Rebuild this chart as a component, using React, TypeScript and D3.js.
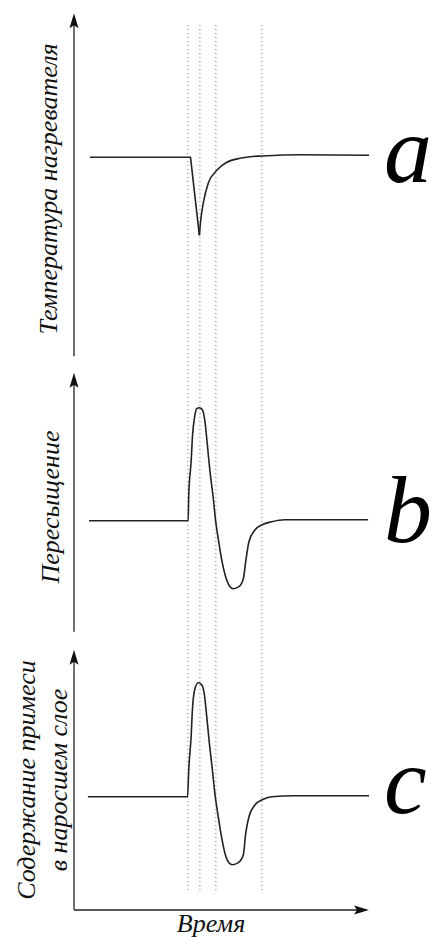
import React from 'react'
import * as d3 from 'd3'

const width = 433
const height = 937

// time (arbitrary units) of the dotted guide lines
const markerTimes = [38.6, 42.7, 48.1, 63.7]

// a: heater temperature — sharp drop, then relaxation
const heaterDrop = [[5.4, 0], [39.5, 0], [42.5, -0.78]]
const heaterRecovery = [
    [42.5, -0.78], [42.95, -0.63], [43.8, -0.46], [45.5, -0.26], [48.4, -0.13],
    [51.8, -0.05], [56.3, -0.01], [59.7, 0.006], [63.7, 0.013], [76.6, 0.026], [100, 0.02]
]

// b: supersaturation
const supersaturation = [
    [5.1, 0], [38.7, 0], [38.9, 0.26], [39.7, 0.59], [40.2, 0.86], [40.8, 1.02],
    [41.6, 1.12], [42.5, 1.13], [43.5, 1.11], [44.4, 0.99], [45.2, 0.76], [46.1, 0.49],
    [47.2, 0.23], [48.0, 0.0], [48.9, -0.18], [50.0, -0.38], [51.4, -0.56], [52.9, -0.66],
    [54.0, -0.68], [55.9, -0.66], [57.4, -0.58], [58.2, -0.41], [59.3, -0.21], [61.4, -0.09],
    [63.8, -0.04], [67.0, -0.01], [71.5, 0.01], [74.9, 0.01], [99.7, 0.01]
]

// c: impurity content in the grown layer
const impurity = [
    [4.7, 0], [38.5, 0], [38.9, 0.27], [39.7, 0.6], [40.2, 0.9], [41.0, 1.08],
    [42.1, 1.14], [43.3, 1.12], [44.2, 1.02], [45.0, 0.8], [45.9, 0.53], [46.9, 0.27],
    [47.8, 0.02], [48.9, -0.2], [50.0, -0.4], [51.2, -0.57], [52.5, -0.66], [53.7, -0.68],
    [55.7, -0.66], [57.4, -0.58], [58.2, -0.37], [59.3, -0.2], [61.4, -0.08], [63.8, -0.03],
    [67.0, 0.0], [74.9, 0.01], [100, 0.01]
]

const axisLabels = {
    a: ['Температура нагревателя'],
    b: ['Пересыщение'],
    c: ['Содержание примеси', 'в наросшем слое']
}
const xLabel = 'Время'

const panels = [
    { id: 'a', center: 157.3, lo: -1.99, hi: 1.44, labelY: 189, labelX: [57], letterY: 182, series: [heaterDrop], smooth: [heaterRecovery] },
    { id: 'b', center: 520.7, lo: -1.11, hi: 1.48, labelY: 507, labelX: [59], letterY: 542, series: [], smooth: [supersaturation] },
    { id: 'c', center: 796.7, lo: -1.13, hi: 1.47, labelY: 780, labelX: [35, 67], letterY: 813, series: [], smooth: [impurity] },
]

const serif = { fontFamily: "'Liberation Serif'", fontStyle: 'italic' }

const x = d3.scaleLinear().domain([0, 100]).range([74, 369])

const arrowUp = 'M0,0 L4.5,15 L0,12 L-4.5,15 Z'
const arrowRight = 'M0,0 L-15,-4.5 L-12,0 L-15,4.5 Z'

export default function App() {
    const guideTop = 25
    const guideBottom = 892

    return (
        <svg width={width} height={height} viewBox={`0 0 ${width} ${height}`}
            style={{ position: 'absolute', left: 0, top: 0, background: '#fff' }}>
            <g stroke="#777" strokeWidth={1} strokeDasharray="1 3">
                {markerTimes.map(t => (
                    <line key={t} x1={x(t)} x2={x(t)} y1={guideTop} y2={guideBottom} />
                ))}
            </g>
            {panels.map(p => {
                const y = d3.scaleLinear().domain([-1, 1]).range([p.center + 100, p.center - 100])
                const lin = d3.line().x(d => x(d[0])).y(d => y(d[1]))
                const mono = d3.line().x(d => x(d[0])).y(d => y(d[1])).curve(d3.curveMonotoneX)
                const lines = axisLabels[p.id]
                return (
                    <g key={p.id}>
                        <line x1={x(0)} x2={x(0)} y1={y(p.lo)} y2={y(p.hi) + 10} stroke="#222" strokeWidth={1.3} />
                        <path d={arrowUp} transform={`translate(${x(0)},${y(p.hi)})`} fill="#111" />
                        <g fill="none" stroke="#222" strokeWidth={1.6} strokeLinejoin="round">
                            {p.series.map((s, i) => <path key={'l' + i} d={lin(s)} />)}
                            {p.smooth.map((s, i) => <path key={'m' + i} d={mono(s)} />)}
                        </g>
                        {lines.map((txt, i) => (
                            <text key={i} transform={`translate(${p.labelX[i]},${p.labelY}) rotate(-90)`}
                                textAnchor="middle" style={serif} fontSize={26} fill="#111">
                                {txt}
                            </text>
                        ))}
                        <text x={384} y={p.letterY} style={serif} fontSize={96} fill="#000">
                            {p.id}
                        </text>
                    </g>
                )
            })}
            <line x1={x(0)} x2={x(100) - 10} y1={910} y2={910} stroke="#222" strokeWidth={1.3} />
            <path d={arrowRight} transform={`translate(${x(100)},910)`} fill="#111" />
            <text x={211} y={932} textAnchor="middle" style={serif} fontSize={26} fill="#111">
                {xLabel}
            </text>
        </svg>
    )
}
